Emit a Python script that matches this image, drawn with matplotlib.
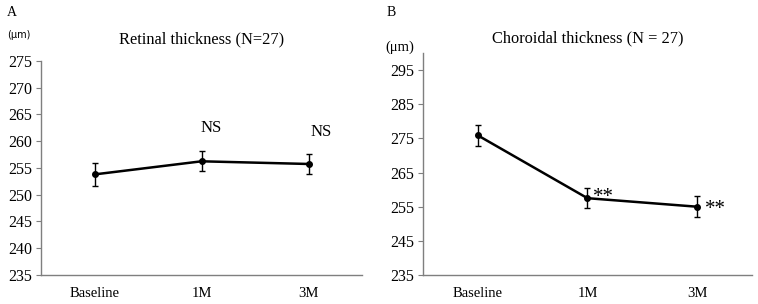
import matplotlib
matplotlib.use("Agg")
import matplotlib.pyplot as plt

plt.rcParams['font.family'] = ['Liberation Serif', 'DejaVu Serif']

# data
timepoints = ['Baseline', '1M', '3M']
retina_mean = [253.8, 256.25, 255.75]
retina_err = [2.2, 1.9, 1.85]
choroid_mean = [275.9, 257.5, 255.0]
choroid_err = [3.0, 2.9, 3.0]

retina_marks = ['', 'NS', 'NS']
choroid_marks = ['', '**', '**']

axis_gray = '#7f7f7f'


def style_axis(ax, ylim, yticks):
    ax.set_xlim(-0.5, 2.5)
    ax.set_ylim(*ylim)
    ax.set_yticks(yticks)
    ax.set_xticks(range(len(timepoints)))
    ax.set_xticklabels(timepoints, fontsize=10.5)
    for side in ['top', 'right']:
        ax.spines[side].set_visible(False)
    for side in ['left', 'bottom']:
        ax.spines[side].set_color(axis_gray)
        ax.spines[side].set_linewidth(1.0)
    ax.tick_params(axis='y', direction='out', length=3.5, color=axis_gray,
                   labelsize=11.5, pad=3)
    ax.tick_params(axis='x', length=0, pad=9)


fig = plt.figure(figsize=(7.58, 3.04), dpi=100)

# panel A
axA = fig.add_axes([0.0541, 0.0954, 0.4235, 0.704])
x = range(len(timepoints))
axA.errorbar(x, retina_mean, yerr=retina_err, color='black', lw=1.8,
             marker='o', ms=4, capsize=2, elinewidth=1, capthick=1)
style_axis(axA, (235, 275), range(235, 276, 5))
nsx = [0, 1.09, 2.12]
nsy = [0, 262.5, 261.8]
for i, m in enumerate(retina_marks):
    if m:
        axA.text(nsx[i], nsy[i], m, fontsize=12, ha='center', va='center')
axA.set_title('Retinal thickness (N=27)', fontsize=11.8, pad=13)
fig.text(0.009, 0.885, '(μm)', fontsize=7, family=['DejaVu Sans'], va='center')
fig.text(0.009, 0.96, 'A', fontsize=10, va='center')

# panel B
axB = fig.add_axes([0.558, 0.0954, 0.434, 0.730])
axB.errorbar(x, choroid_mean, yerr=choroid_err, color='black', lw=1.8,
             marker='o', ms=4, capsize=2, elinewidth=1, capthick=1)
style_axis(axB, (235, 300), range(235, 296, 10))
sx = [0, 1.15, 2.17]
sy = [0, 259.4, 255.8]
for i, m in enumerate(choroid_marks):
    if m:
        # asterisks sit high in the em box, so shift them down
        axB.text(sx[i], sy[i] - 1.6, m, fontsize=15, ha='center', va='center')
axB.set_title('Choroidal thickness (N = 27)', fontsize=11.8, pad=8)
fig.text(0.508, 0.845, '(μm)', fontsize=10.5, va='center')
fig.text(0.510, 0.96, 'B', fontsize=10, va='center')

fig.savefig('out.png', dpi=100)
